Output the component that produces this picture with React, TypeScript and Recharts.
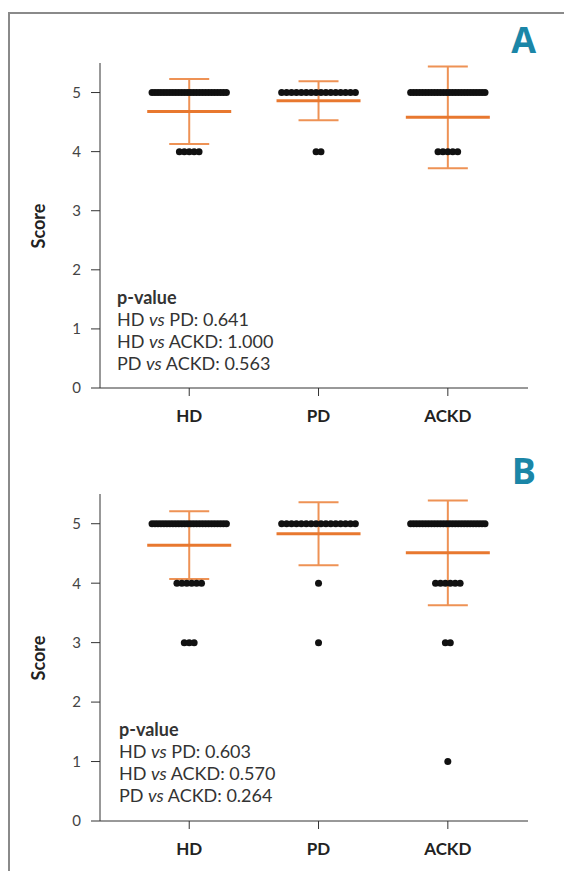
import React from 'react';
import { ScatterChart, Scatter, XAxis, YAxis, ErrorBar } from 'recharts';

const groups = ['HD', 'PD', 'ACKD'];
const scoreTicks = [0, 1, 2, 3, 4, 5];

// panel A: [score, number of patients] per group
const dotsA_HD = [[5, 26], [4, 5]];
const dotsA_PD = [[5, 16], [4, 2]];
const dotsA_ACKD = [[5, 26], [4, 5]];
const meanA = [4.68, 4.86, 4.58];
const sdA = [0.55, 0.33, 0.86];
const pvalA = ['0.641', '1.000', '0.563'];

// panel B
const dotsB_HD = [[5, 26], [4, 6], [3, 3]];
const dotsB_PD = [[5, 16], [4, 1], [3, 1]];
const dotsB_ACKD = [[5, 26], [4, 6], [3, 2], [1, 1]];
const meanB = [4.64, 4.83, 4.51];
const sdB = [0.57, 0.53, 0.88];
const pvalB = ['0.603', '0.570', '0.264'];

const comparisons = [['HD', 'PD'], ['HD', 'ACKD'], ['PD', 'ACKD']];

const DOT_STEP = 0.038;
const MAX_SPAN = 0.575;
const FONT = 'Lato, "Open Sans", sans-serif';

function spreadDots(groupDots: number[][][]) {
  const pts: { x: number; y: number }[] = [];
  groupDots.forEach((rows, gi) => {
    rows.forEach(([score, n]) => {
      const step = n > 1 ? Math.min(DOT_STEP, MAX_SPAN / (n - 1)) : 0;
      for (let i = 0; i < n; i++) {
        pts.push({ x: gi + 1 + (i - (n - 1) / 2) * step, y: score });
      }
    });
  });
  return pts;
}

const Dot = (props: any) => <circle cx={props.cx} cy={props.cy} r={3.5} fill="#111" />;
const MeanLine = (props: any) => (
  <line x1={props.cx - 42} x2={props.cx + 42} y1={props.cy} y2={props.cy} stroke="#e8782f" strokeWidth={3} />
);

interface PanelProps {
  letter: string;
  top: number;
  bottomMargin: number;
  dots: number[][][];
  mean: number[];
  sd: number[];
  pvals: string[];
  textTop: number;
  textLeft: number;
}

function Panel({ letter, top, bottomMargin, dots, mean, sd, pvals, textTop, textLeft }: PanelProps) {
  const points = spreadDots(dots);
  const means = mean.map((m, i) => ({ x: i + 1, y: m, sd: sd[i] }));
  const plotTop = top + 63;
  const plotBottom = top + 440 - 40 - bottomMargin;

  return (
    <>
      <div style={{ position: 'absolute', left: 0, top }}>
        <ScatterChart width={564} height={440} margin={{ top: 63, right: 36, bottom: bottomMargin, left: 0 }}>
          <XAxis
            type="number"
            dataKey="x"
            domain={[0.31, 3.62]}
            ticks={[1, 2, 3]}
            tickFormatter={(v: number) => groups[v - 1]}
            allowDataOverflow
            height={40}
            tickSize={8}
            tickMargin={14}
            stroke="#333"
            tick={{ fontSize: 17, fontWeight: 700, fill: '#222', fontFamily: FONT }}
          />
          <YAxis
            type="number"
            dataKey="y"
            domain={[0, 5.5]}
            ticks={scoreTicks}
            width={100}
            tickSize={9}
            tickMargin={10}
            stroke="#333"
            tick={{ fontSize: 15, fill: '#444', fontFamily: FONT }}
          />
          <Scatter data={means} shape={MeanLine} isAnimationActive={false}>
            <ErrorBar dataKey="sd" direction="y" width={20} stroke="#ee9255" strokeWidth={2} isAnimationActive={false} />
          </Scatter>
          <Scatter data={points} shape={Dot} isAnimationActive={false} />
        </ScatterChart>
      </div>
      <div
        style={{
          position: 'absolute',
          left: -2,
          top: (plotTop + plotBottom) / 2 - 12,
          width: 80,
          height: 24,
          transform: 'rotate(-90deg)',
          transformOrigin: '40px 12px',
          textAlign: 'center',
          fontFamily: FONT,
          fontWeight: 700,
          fontSize: 18,
          lineHeight: '24px',
          color: '#222',
        }}
      >
        Score
      </div>
      <div
        style={{
          position: 'absolute',
          right: 28,
          top: top + 20,
          fontFamily: '"Open Sans", sans-serif',
          fontWeight: 700,
          fontSize: 36,
          lineHeight: '40px',
          color: '#1b86a7',
        }}
      >
        {letter}
      </div>
      <div
        style={{
          position: 'absolute',
          left: textLeft,
          top: textTop,
          fontFamily: FONT,
          fontSize: 18,
          lineHeight: '22px',
          color: '#333',
        }}
      >
        <div style={{ fontWeight: 700 }}>p-value</div>
        {comparisons.map(([a, b], i) => (
          <div key={i}>
            {a} <i>vs</i> {b}: {pvals[i]}
          </div>
        ))}
      </div>
    </>
  );
}

export default function App() {
  return (
    <div style={{ position: 'absolute', left: 0, top: 0, width: 564, height: 871, background: '#fff', overflow: 'hidden' }}>
      <div
        style={{
          position: 'absolute',
          left: 8,
          top: 12,
          right: -10,
          bottom: -10,
          borderLeft: '2px solid #8a8a8a',
          borderTop: '2px solid #8a8a8a',
        }}
      />
      <Panel
        letter="A"
        top={0}
        bottomMargin={12}
        dots={[dotsA_HD, dotsA_PD, dotsA_ACKD]}
        mean={meanA}
        sd={sdA}
        pvals={pvalA}
        textTop={286}
        textLeft={117}
      />
      <Panel
        letter="B"
        top={431}
        bottomMargin={10}
        dots={[dotsB_HD, dotsB_PD, dotsB_ACKD]}
        mean={meanB}
        sd={sdB}
        pvals={pvalB}
        textTop={718}
        textLeft={119}
      />
    </div>
  );
}
